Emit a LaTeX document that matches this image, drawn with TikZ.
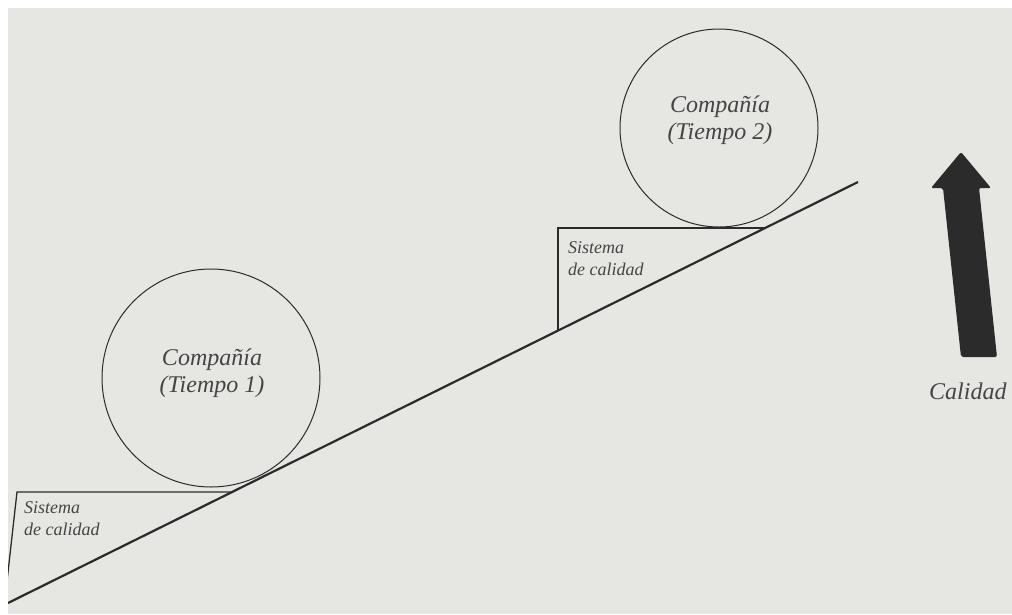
\documentclass[tikz,border=0pt]{standalone}
\usepackage{fontspec}
\setmainfont{Liberation Serif}
\definecolor{page}{HTML}{E6E6E2}
\definecolor{ink}{HTML}{2B2B2B}
\definecolor{txt}{HTML}{454545}
\tikzset{
  firm/.style={draw=ink, line width=1pt, circle, inner sep=0pt},
  firmtext/.style={text=txt, font=\itshape\fontsize{24}{27}\selectfont, align=center},
  wedgetext/.style={text=txt, font=\itshape\fontsize{18}{22}\selectfont, align=left, anchor=north west, inner sep=0pt},
  wedge/.style={draw=ink, line width=1.3pt},
  slope/.style={draw=ink, line width=2.2pt},
}
\begin{document}
\begin{tikzpicture}[x=1pt, y=-1pt]
\useasboundingbox (0,0) rectangle (1012,614);
\fill[white] (0,0) rectangle (1012,614);
\fill[page] (8,8) rectangle (1012,614);
\begin{scope}
\clip (8,8) rectangle (1012,614);
% slope
\coordinate (s0) at (8,603);
\coordinate (s1) at (858,182);
\draw[slope] (s0) -- (s1);
% lower wedge
\coordinate (w1a) at (6,590);
\coordinate (w1b) at (17,492);
\coordinate (w1c) at (232,492);
\draw[wedge] (w1a) -- (w1b) -- (w1c);
\node[wedgetext] (l1) at (24,501) {Sistema\\de calidad};
% upper wedge
\coordinate (w2a) at (558,331);
\coordinate (w2b) at (558,228);
\coordinate (w2c) at (765,228);
\draw[wedge] (w2a) -- (w2b) -- (w2c);
\node[wedgetext] (l2) at (568,241) {Sistema\\de calidad};
% circles
\node[firm, minimum size=218pt] (c1) at (211,378) {};
\node[firmtext] (t1) at (212,373) {Compañía\\(Tiempo 1)};
\node[firm, minimum size=198pt] (c2) at (719,128) {};
\node[firmtext] (t2) at (720,120) {Compañía\\(Tiempo 2)};
% arrow
\fill[ink, rounded corners=2pt] (961,357) -- (997,357) -- (979,188) -- (991,188) -- (961,152) -- (931,188) -- (943,188) -- cycle;
\node[text=txt, font=\itshape\fontsize{24}{28}\selectfont, anchor=base west, inner sep=0pt] (q) at (929,399) {Calidad};
\end{scope}
\end{tikzpicture}
\end{document}
